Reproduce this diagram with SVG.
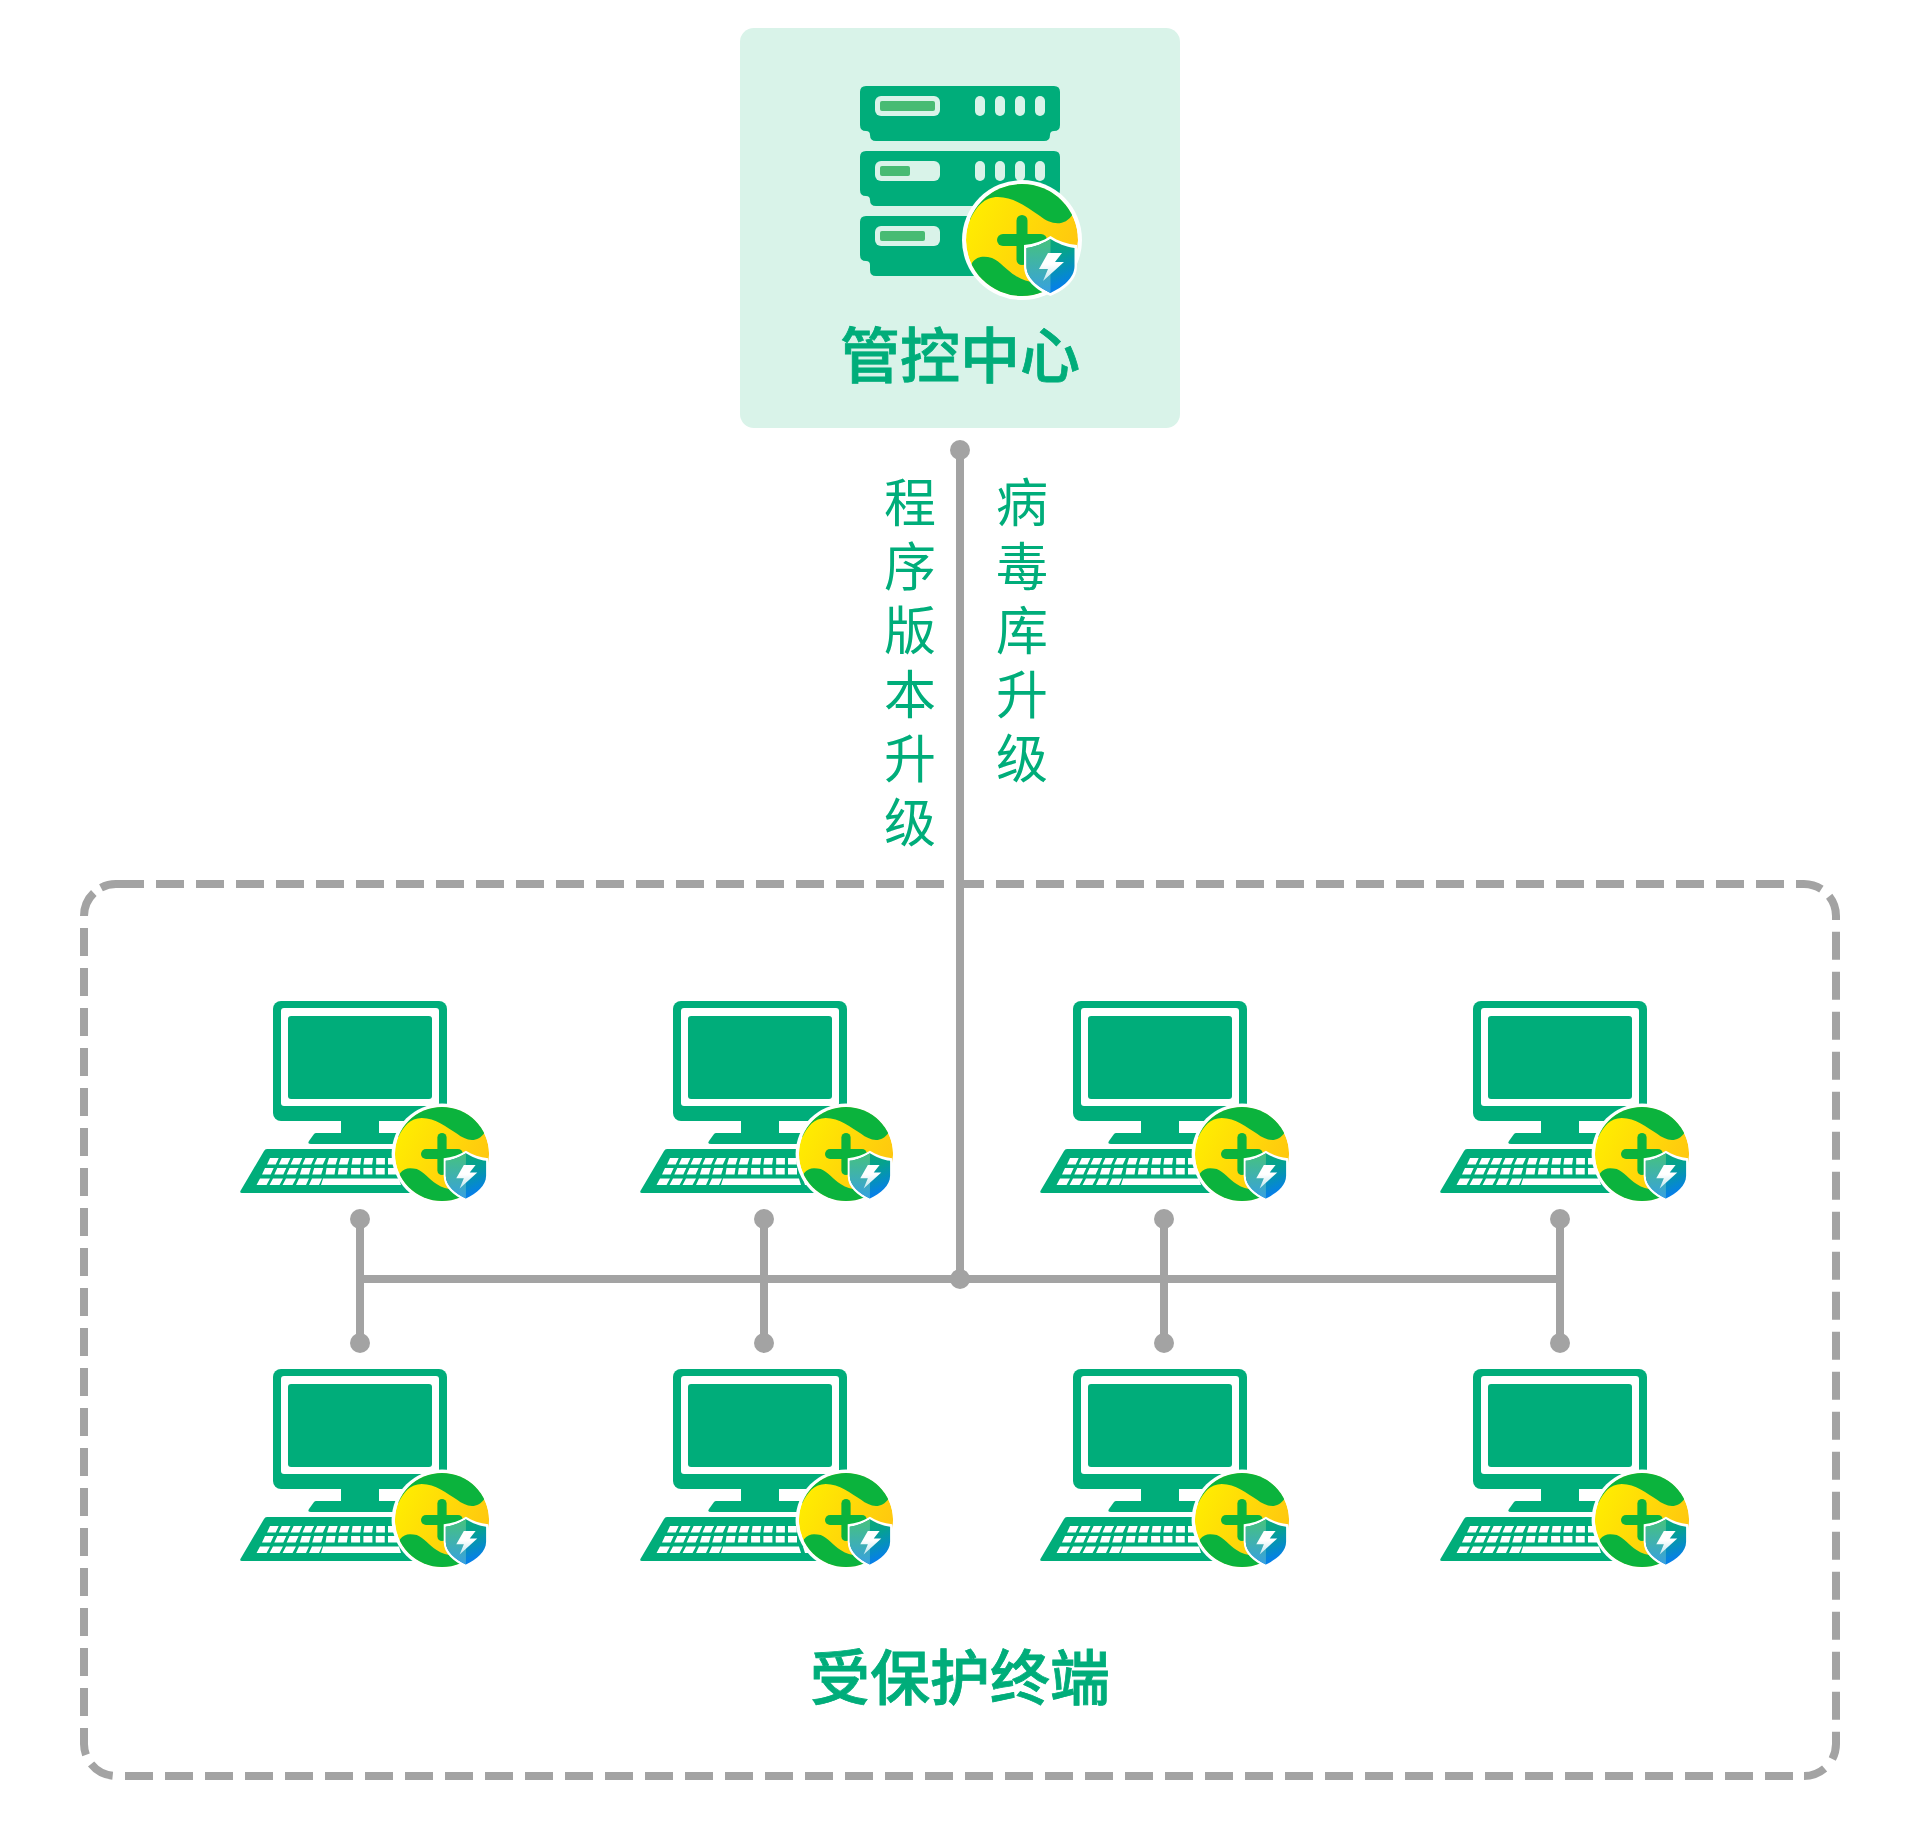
<svg xmlns="http://www.w3.org/2000/svg" width="1920" height="1840" viewBox="0 0 1920 1840">
<style>
.g{fill:#00ad7a}
.p{fill:#d9f3e9}
.w{fill:#fff}
.lb{fill:#47bb73}
.line{stroke:#a3a3a3;stroke-width:8;fill:none}
.dash{stroke-dasharray:28 12}
.dot{fill:#a3a3a3}
.t{font-family:"Noto Sans CJK SC","Noto Sans",sans-serif;fill:#00ad7a;text-anchor:middle}
.title{font-size:60px;font-weight:500;stroke:#00ad7a;stroke-width:.8px}
.v{font-size:52px;font-weight:400}
</style>
<defs>
<linearGradient id="yel" x1="0" y1="0" x2="1" y2="0.5"><stop offset="0.1" stop-color="#ffee00"/><stop offset="1" stop-color="#ffc80f"/></linearGradient>
<linearGradient id="sh" x1="0" y1="0" x2="0.35" y2="1"><stop offset="0" stop-color="#0cab6e"/><stop offset="0.45" stop-color="#05a28e"/><stop offset="1" stop-color="#0680e6"/></linearGradient>
<linearGradient id="shl" x1="0" y1="0" x2="0" y2="1"><stop offset="0" stop-color="#46c27d"/><stop offset="1" stop-color="#38a0e0"/></linearGradient>
<linearGradient id="bolt" x1="0" y1="0" x2="0" y2="1"><stop offset="0.4" stop-color="#fff"/><stop offset="1" stop-color="#bfe6ee"/></linearGradient>
<clipPath id="cc"><circle r="56"/></clipPath>
<g id="badge">
<circle r="60" fill="#fff"/>
<g clip-path="url(#cc)">
<circle r="56" fill="url(#yel)"/>
<path fill="#0bb33d" d="M-52-20C-46-33-38-43-24-43C-8-43 6-32 18-24C28-16 42-12 51-26L60-70H-70Z"/>
<path fill="#0bb33d" d="M-50 23C-45 16-38 16-30 18C-22 21-16 30-6 36C6 44 20 42 36 46L60 70H-70Z"/>
<rect x="-25" y="-6" width="50" height="12" rx="6" fill="#0bb33d"/>
<rect x="-5.500" y="-25" width="11" height="50" rx="5.500" fill="#0bb33d"/>
</g>
<path fill="#fff" d="M28.500-4C21 1 12 4 2 5V26C2 40 14 50 28.500 56C43 50 55 40 55 26V5C45 4 36 1 28.500-4Z"/>
<path fill="url(#sh)" d="M28.500-1C22 3 13 7 4.500 8V26C4.500 38 16 47 28.500 53C41 47 52.500 38 52.500 26V8C44 7 35 3 28.500-1Z"/>
<path fill="url(#shl)" d="M28.500-1C22 3 13 7 4.500 8V26C4.500 38 16 47 28.500 53Z"/>
<path fill="url(#bolt)" d="M26 13H40L33 22H42L21 41L26 29H17Z"/>
</g>
<g id="pc">
<rect class="g" x="-87" y="0" width="174" height="120" rx="8"/>
<rect class="w" x="-79" y="7" width="158" height="98" rx="3"/>
<rect class="g" x="-72" y="15" width="144" height="83" rx="3"/>
<rect class="g" x="-19" y="118" width="38" height="18"/>
<path class="g" d="M-44 132H50V143H-49Q-53 143-51 140L-46 133Q-45 132-44 132Z"/>
<path class="g" d="M-93 148H60V192H-118Q-121 192-119 189L-96 150Q-95 148-93 148Z"/>
<path class="w" d="M-90 157h8.700l-3 6.500h-8.700zm11.800 0h8.700l-3 6.500h-8.700zm11.800 0h8.700l-3 6.500h-8.700zm11.800 0h8.700l-3 6.500h-8.700zm11.800 0h8.700l-3 6.500h-8.700zm11.800 0h8.700l-2 6.500h-8.700zm11.800 0h8.700l-2 6.500h-8.700zm11.800 0h8.700l-1 6.500h-8.700zm11.800 0h8.700l-1 6.500h-8.700zm11.800 0h8.700v6.500h-8.700zm11.800 0h8.700v6.500h-8.700zm11.800 0h8.700v6.500h-8.700z"/>
<path class="w" d="M-95 167h8.700l-3 6.500h-8.700zm12.300 0h9l-3 6.500h-9zm12.300 0h9l-3 6.500h-9zm12.300 0h9l-2 6.500h-9zm12.300 0h9l-2 6.500h-9zm12.300 0h9l-1 6.500h-9zm12.300 0h9l-1 6.500h-9zm12.300 0h9v6.500h-9zm12.300 0h9v6.500h-9zm12.300 0h9v6.500h-9zm12.300 0h9v6.500h-9z"/>
<path class="w" d="M-100 177.500h10l-3.500 6.500h-10zm13 0h10l-3.500 6.500h-10zm13 0h10l-3.500 6.500h-10zm13 0h10l-3 6.500h-10zm13 0h10l-3 6.500h-10z"/>
<path class="w" d="M-37 177.500h76l2 6.500h-80z"/>
<path class="w" d="M43 177.500h8v6.500h-6z"/>
</g>
</defs>
<g id="protected-zone" fill="none">
<path class="line dash" d="M116 884H1804"/>
<path class="line" d="M1804 884A32 32 0 0 1 1821.400 889.200M1829.200 896.300A32 32 0 0 1 1836 916V920"/>
<path class="line dash" d="M1836 931.700V1744"/>
<path class="line" d="M1836 1744A32 32 0 0 1 1832.300 1759M1824.600 1768.500A32 32 0 0 1 1804 1776"/>
<path class="line dash" d="M1793 1776H125"/>
<path class="line" d="M112.700 1775.800A32 32 0 0 1 91.100 1764.100M86 1754.900A32 32 0 0 1 84 1744V1728"/>
<path class="line dash" d="M84 1716V928"/>
<path class="line" d="M84 916A32 32 0 0 1 93.800 893M101 887.700A32 32 0 0 1 116 884"/>
</g>
<g id="connectors">
<path class="line" d="M960 450V1279M360 1279H1560M360 1219V1343M764 1219V1343M1164 1219V1343M1560 1219V1343"/>
<circle class="dot" cx="960" cy="450" r="10"/>
<circle class="dot" cx="960" cy="1279" r="10"/>
<circle class="dot" cx="360" cy="1219" r="10"/><circle class="dot" cx="360" cy="1343" r="10"/>
<circle class="dot" cx="764" cy="1219" r="10"/><circle class="dot" cx="764" cy="1343" r="10"/>
<circle class="dot" cx="1164" cy="1219" r="10"/><circle class="dot" cx="1164" cy="1343" r="10"/>
<circle class="dot" cx="1560" cy="1219" r="10"/><circle class="dot" cx="1560" cy="1343" r="10"/>
</g>
<g id="control-center">
<rect class="p" x="740" y="28" width="440" height="400" rx="14"/>
<g id="server">
<path class="g" d="M866 86H1054Q1060 86 1060 92V125Q1060 131 1054 131Q1050 131 1050 135Q1050 141 1044 141H876Q870 141 870 135Q870 131 866 131Q860 131 860 125V92Q860 86 866 86Z"/>
<rect class="p" x="875" y="96" width="65" height="20" rx="6"/><rect class="lb" x="880" y="101" width="55" height="10" rx="2"/>
<rect class="p" x="975" y="96" width="10" height="20" rx="5"/><rect class="p" x="995" y="96" width="10" height="20" rx="5"/><rect class="p" x="1015" y="96" width="10" height="20" rx="5"/><rect class="p" x="1035" y="96" width="10" height="20" rx="5"/>
<path class="g" d="M866 151H1054Q1060 151 1060 157V190Q1060 196 1054 196Q1050 196 1050 200Q1050 206 1044 206H876Q870 206 870 200Q870 196 866 196Q860 196 860 190V157Q860 151 866 151Z"/>
<rect class="p" x="875" y="161" width="65" height="20" rx="6"/><rect class="lb" x="880" y="166" width="30" height="10" rx="2"/>
<rect class="p" x="975" y="161" width="10" height="20" rx="5"/><rect class="p" x="995" y="161" width="10" height="20" rx="5"/><rect class="p" x="1015" y="161" width="10" height="20" rx="5"/><rect class="p" x="1035" y="161" width="10" height="20" rx="5"/>
<path class="g" d="M866 216H1054Q1060 216 1060 222V255Q1060 261 1054 261Q1050 261 1050 265V270Q1050 276 1044 276H876Q870 276 870 270V265Q870 261 866 261Q860 261 860 255V222Q860 216 866 216Z"/>
<rect class="p" x="875" y="226" width="65" height="20" rx="6"/><rect class="lb" x="880" y="231" width="45" height="10" rx="2"/>
</g>
<use href="#badge" x="1022" y="240"/>
<text class="t title" x="960" y="378">管控中心</text>
</g>
<g id="label-program">
<text class="t v" x="910" y="522">程</text><text class="t v" x="910" y="586">序</text><text class="t v" x="910" y="650">版</text><text class="t v" x="910" y="714">本</text><text class="t v" x="910" y="778">升</text><text class="t v" x="910" y="842">级</text>
</g>
<g id="label-virus">
<text class="t v" x="1022" y="522">病</text><text class="t v" x="1022" y="586">毒</text><text class="t v" x="1022" y="650">库</text><text class="t v" x="1022" y="714">升</text><text class="t v" x="1022" y="778">级</text>
</g>
<g id="pc-1-1"><use href="#pc" x="360" y="1001"/><use href="#badge" transform="translate(442 1154) scale(.84)"/></g>
<g id="pc-1-2"><use href="#pc" x="760" y="1001"/><use href="#badge" transform="translate(846 1154) scale(.84)"/></g>
<g id="pc-1-3"><use href="#pc" x="1160" y="1001"/><use href="#badge" transform="translate(1242 1154) scale(.84)"/></g>
<g id="pc-1-4"><use href="#pc" x="1560" y="1001"/><use href="#badge" transform="translate(1642 1154) scale(.84)"/></g>
<g id="pc-2-1"><use href="#pc" x="360" y="1369"/><use href="#badge" transform="translate(442 1520) scale(.84)"/></g>
<g id="pc-2-2"><use href="#pc" x="760" y="1369"/><use href="#badge" transform="translate(846 1520) scale(.84)"/></g>
<g id="pc-2-3"><use href="#pc" x="1160" y="1369"/><use href="#badge" transform="translate(1242 1520) scale(.84)"/></g>
<g id="pc-2-4"><use href="#pc" x="1560" y="1369"/><use href="#badge" transform="translate(1642 1520) scale(.84)"/></g>
<text class="t title" x="960" y="1700">受保护终端</text>
</svg>
